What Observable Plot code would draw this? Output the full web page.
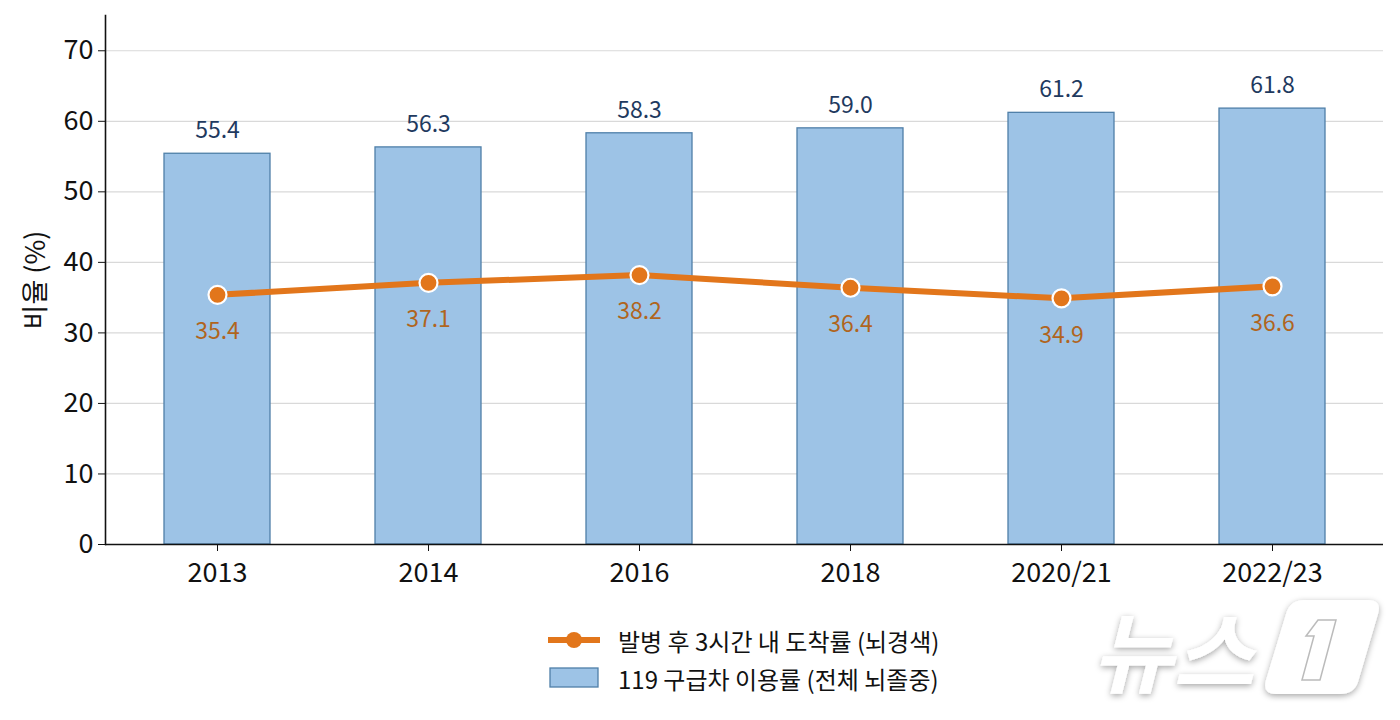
<!DOCTYPE html>
<html>
<head>
<meta charset="utf-8">
<script src="https://cdn.jsdelivr.net/npm/d3@7"></script>
<script src="https://cdn.jsdelivr.net/npm/@observablehq/plot@0.6"></script>
<style>
  body { margin: 0; background: #fff; font-family: "Noto Sans CJK KR", "Noto Sans", sans-serif; }
  #wrap { position: relative; width: 1400px; height: 720px; overflow: hidden; }
  #chart { position: absolute; left: 0; top: 0; }
  #legend { position: absolute; left: 546px; top: 621px; font-size: 24px; color: #111; }
  .row { display: flex; align-items: center; height: 38px; }
  .row svg { margin-right: 16px; }
  #logo { position: absolute; left: 1080px; top: 584px; }
</style>
</head>
<body>
<div id="wrap">
  <div id="chart"></div>
  <div id="legend">
    <div class="row">
      <svg width="56" height="24"><line x1="2" y1="12" x2="54" y2="12" stroke="#e2761b" stroke-width="6"/><circle cx="28" cy="12" r="8" fill="#e2761b"/></svg>
      <span>발병 후 3시간 내 도착률 (뇌경색)</span>
    </div>
    <div class="row">
      <svg width="56" height="24"><rect x="4" y="2" width="48" height="19" fill="#9dc3e6" stroke="#4f7fa8" stroke-width="1.3"/></svg>
      <span>119 구급차 이용률 (전체 뇌졸중)</span>
    </div>
  </div>
  <div id="logo">
    <svg width="318" height="134">
      <defs>
        <filter id="sh" x="-20%" y="-30%" width="140%" height="160%">
          <feDropShadow dx="0" dy="2" stdDeviation="3" flood-color="#000" flood-opacity="0.35"/>
        </filter>
      </defs>
      <g filter="url(#sh)">
        <text x="12" y="102" font-size="88" font-weight="700" font-style="italic" fill="#fff" font-family="Noto Sans CJK KR">뉴스</text>
        <path d="M224,16 L288,16 Q302,16 298,30 L278,98 Q274,110 260,110 L196,110 Q182,110 186,96 L206,30 Q210,16 224,16 Z" fill="#fff"/>
        <path d="M238,36 L256,36 L240,96 L222,96 L234,52 L226,52 Z" fill="#fff" stroke="#bbb" stroke-width="1.5"/>
      </g>
    </svg>
  </div>
</div>
<script>
// Survey periods on the x axis
const years = ["2013", "2014", "2016", "2018", "2020/21", "2022/23"];
// 119 ambulance use rate, all strokes (%)
const ambulanceUse = [55.4, 56.3, 58.3, 59.0, 61.2, 61.8];
// Arrival within 3 hours of onset, ischemic stroke (%)
const arrivalWithin3h = [35.4, 37.1, 38.2, 36.4, 34.9, 36.6];
// Y axis tick values
const yTicks = [0, 10, 20, 30, 40, 50, 60, 70];

const rows = years.map((year, i) => ({ year, bar: ambulanceUse[i], line: arrivalWithin3h[i] }));

const font = '"Noto Sans CJK KR", "Noto Sans", sans-serif';
const orange = "#e2761b";

const chart = Plot.plot({
  width: 1400,
  height: 600,
  marginLeft: 105,
  marginRight: 17,
  marginTop: 15,
  marginBottom: 56,
  style: { fontFamily: font, fontSize: "27px", color: "#111", background: "transparent" },
  x: { domain: years, paddingInner: 0.5, paddingOuter: 0.27, label: null },
  y: { domain: [0, 75], label: null },
  marks: [
    Plot.gridY(yTicks.slice(1), { stroke: "#d9d9d9", strokeOpacity: 1, strokeWidth: 1.2 }),
    Plot.barY(rows, { x: "year", y: "bar", fill: "#9dc3e6", stroke: "#4f7fa8", strokeWidth: 1.3 }),
    Plot.text(rows, { x: "year", y: "bar", text: d => d.bar.toFixed(1), dy: -23, fill: "#1f3a5f", fontSize: 23 }),
    Plot.lineY(rows, { x: "year", y: "line", stroke: orange, strokeWidth: 6 }),
    Plot.dot(rows, { x: "year", y: "line", r: 9, fill: orange, stroke: "white", strokeWidth: 2.2 }),
    Plot.text(rows, { x: "year", y: "line", text: d => d.line.toFixed(1), dy: 37, fill: "#b0651e", fontSize: 23 }),
    Plot.axisY({ ticks: yTicks, tickSize: 7, tickPadding: 5, fontSize: 27, label: "비율 (%)", labelAnchor: "center", labelArrow: "none", labelOffset: 80 }),
    Plot.axisX({ tickSize: 7, tickPadding: 11, fontSize: 27, label: null }),
    Plot.ruleY([0], { stroke: "#111", strokeWidth: 1.6 }),
    Plot.frame({ anchor: "left", stroke: "#111", strokeWidth: 1.6 })
  ]
});

document.getElementById("chart").appendChild(chart);
</script>
</body>
</html>
